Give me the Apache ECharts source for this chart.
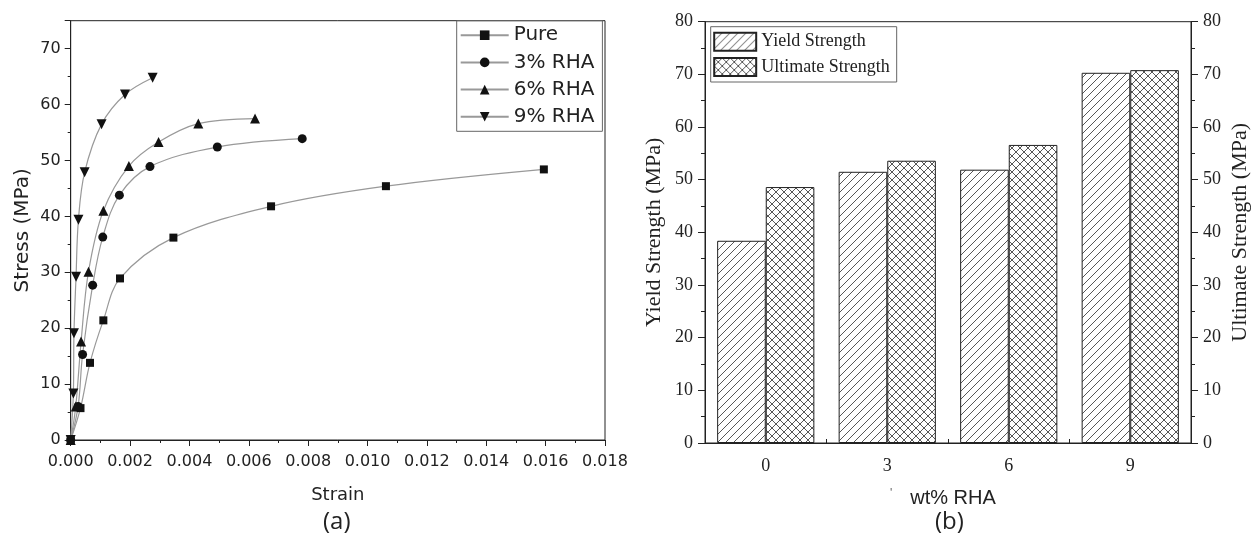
<!DOCTYPE html>
<html>
<head>
<meta charset="utf-8">
<script src="https://cdn.jsdelivr.net/npm/echarts@6/dist/echarts.min.js"></script>
<style>
  html, body { margin: 0; padding: 0; background: #fff; }
  #chart { width: 1252px; height: 542px; }
</style>
</head>
<body>
<div id="chart"></div>
<script>
// (a) stress-strain curves
const strainPure = [0, 0.00033, 0.00065, 0.0011, 0.00166, 0.00346, 0.00675, 0.01062, 0.01594];
const stressPure = [0, 5.7, 13.8, 21.4, 28.9, 36.2, 41.8, 45.4, 48.4];
const strain3 = [0, 0.00025, 0.0004, 0.00074, 0.00108, 0.00164, 0.00267, 0.00494, 0.0078];
const stress3 = [0, 6.0, 15.3, 27.7, 36.3, 43.8, 48.9, 52.4, 53.9];
const strain6 = [0, 0.00017, 0.00035, 0.0006, 0.0011, 0.00196, 0.00296, 0.0043, 0.00621];
const stress6 = [0, 6.0, 17.6, 30.1, 41.0, 49.0, 53.3, 56.6, 57.5];
const strain9 = [0, 0.00009, 0.00011, 0.00018, 0.00026, 0.00047, 0.00104, 0.00183, 0.00276];
const stress9 = [0, 8.3, 19.1, 29.2, 39.4, 47.9, 56.5, 61.8, 64.8];
const curveNames = ["Pure", "3% RHA", "6% RHA", "9% RHA"];

// (b) strength vs wt% RHA
const rhaLevels = ["0", "3", "6", "9"];
const yieldStrength = [38.4, 51.5, 51.9, 70.3];
const ultimateStrength = [48.6, 53.6, 56.6, 70.8];

const pairs = (xs, ys) => xs.map((x, i) => [x, ys[i]]);

function hatch(cross) {
  const c = document.createElement("canvas");
  c.width = 8;
  c.height = 8;
  const g = c.getContext("2d");
  g.fillStyle = "#fff";
  g.fillRect(0, 0, 8, 8);
  g.strokeStyle = "#444";
  g.lineWidth = 0.9;
  const seg = (x1, y1, x2, y2) => {
    g.beginPath();
    g.moveTo(x1, y1);
    g.lineTo(x2, y2);
    g.stroke();
  };
  seg(-1, 9, 9, -1);
  seg(-1, 1, 1, -1);
  seg(7, 9, 9, 7);
  if (cross) {
    seg(-1, -1, 9, 9);
    seg(7, -1, 9, 1);
    seg(-1, 7, 1, 9);
  }
  return c;
}

const sans = "DejaVu Sans";
const serif = "Liberation Serif";
const ink = "#222";

const lineSeries = (name, data, symbol, size) => ({
  name: name,
  type: "line",
  xAxisIndex: 0,
  yAxisIndex: 0,
  data: data,
  smooth: 0.35,
  symbol: symbol,
  symbolSize: size,
  lineStyle: { color: "#999", width: 1.2 },
  itemStyle: { color: "#111" },
});

const downTri = "path://M0,0 L10,0 L5,9 Z";

let myChart = echarts.init(document.getElementById("chart"));
let option;

option = {
  animation: false,
  grid: [
    { left: 70.7, right: 647, top: 20.7, bottom: 102, show: true, borderColor: ink, borderWidth: 1 },
    { left: 705, right: 59.3, top: 21.7, bottom: 99, show: true, borderColor: ink, borderWidth: 1 },
  ],
  legend: [
    {
      data: curveNames,
      left: 456.7,
      top: 20.7,
      orient: "vertical",
      itemWidth: 48,
      itemHeight: 12,
      itemGap: 7.2,
      padding: [4.5, 8, 4.5, 3],
      borderColor: "#666",
      borderWidth: 1,
      textStyle: { fontFamily: sans, fontSize: 20, color: ink, lineHeight: 20 },
    },
    {
      data: ["Yield Strength", "Ultimate Strength"],
      left: 710.7,
      top: 26.7,
      orient: "vertical",
      icon: "rect",
      itemWidth: 42,
      itemHeight: 18,
      itemGap: 5.3,
      padding: [5, 7, 5, 2.5],
      borderColor: "#666",
      borderWidth: 1,
      textStyle: { fontFamily: serif, fontSize: 18, color: ink },
    },
  ],
  xAxis: [
    {
      gridIndex: 0,
      type: "value",
      min: 0,
      max: 0.018,
      interval: 0.002,
      name: "Strain",
      nameLocation: "middle",
      nameGap: 46,
      nameTextStyle: { fontFamily: sans, fontSize: 18, color: ink },
      axisLine: { lineStyle: { color: ink } },
      axisTick: { inside: false, length: 6, lineStyle: { color: ink } },
      minorTick: { show: true, splitNumber: 2, length: 3, lineStyle: { color: ink } },
      splitLine: { show: false },
      axisLabel: { fontFamily: sans, fontSize: 16, color: ink, margin: 14, formatter: (v) => v.toFixed(3) },
    },
    {
      gridIndex: 1,
      type: "category",
      data: rhaLevels,
      name: "wt% RHA",
      nameLocation: "middle",
      nameGap: 45,
      nameTextStyle: { fontFamily: "Liberation Sans", fontSize: 20, color: ink, padding: [0, 0, 0, 10] },
      axisLine: { lineStyle: { color: ink } },
      axisTick: { alignWithLabel: true, length: 7, lineStyle: { color: ink } },
      axisLabel: { fontFamily: serif, fontSize: 18, color: ink, margin: 14 },
    },
    {
      gridIndex: 1,
      type: "category",
      data: rhaLevels,
      axisLine: { show: false },
      axisTick: { show: true, length: 4, lineStyle: { color: ink } },
      axisLabel: { show: false },
    },
  ],
  yAxis: [
    {
      gridIndex: 0,
      type: "value",
      min: 0,
      max: 75,
      interval: 10,
      name: "Stress (MPa)",
      nameLocation: "middle",
      nameGap: 38,
      nameTextStyle: { fontFamily: sans, fontSize: 20, color: ink },
      axisLine: { show: true, lineStyle: { color: ink } },
      axisTick: { show: true, inside: false, length: 6, lineStyle: { color: ink } },
      minorTick: { show: true, splitNumber: 2, length: 3, lineStyle: { color: ink } },
      splitLine: { show: false },
      axisLabel: { fontFamily: sans, fontSize: 16, color: ink, margin: 10, showMaxLabel: false },
    },
    {
      gridIndex: 1,
      type: "value",
      position: "left",
      min: 0,
      max: 80,
      interval: 10,
      name: "Yield Strength (MPa)",
      nameLocation: "middle",
      nameGap: 40,
      nameTextStyle: { fontFamily: serif, fontSize: 22, color: ink },
      axisLine: { show: true, lineStyle: { color: ink } },
      axisTick: { show: true, length: 7, lineStyle: { color: ink } },
      minorTick: { show: true, splitNumber: 2, length: 4, lineStyle: { color: ink } },
      splitLine: { show: false },
      axisLabel: { fontFamily: serif, fontSize: 18, color: ink, margin: 12 },
    },
    {
      gridIndex: 1,
      type: "value",
      position: "right",
      min: 0,
      max: 80,
      interval: 10,
      name: "Ultimate Strength (MPa)",
      nameLocation: "middle",
      nameGap: 38,
      nameTextStyle: { fontFamily: serif, fontSize: 22, color: ink },
      axisLine: { show: true, lineStyle: { color: ink } },
      axisTick: { show: true, length: 7, lineStyle: { color: ink } },
      minorTick: { show: true, splitNumber: 2, length: 4, lineStyle: { color: ink } },
      splitLine: { show: false },
      axisLabel: { fontFamily: serif, fontSize: 18, color: ink, margin: 12 },
    },
  ],
  series: [
    lineSeries(curveNames[0], pairs(strainPure, stressPure), "rect", 8),
    lineSeries(curveNames[1], pairs(strain3, stress3), "circle", 9),
    lineSeries(curveNames[2], pairs(strain6, stress6), "triangle", 10),
    lineSeries(curveNames[3], pairs(strain9, stress9), downTri, 10),
    {
      name: "Yield Strength",
      type: "bar",
      xAxisIndex: 1,
      yAxisIndex: 1,
      data: yieldStrength,
      barGap: "0%",
      barCategoryGap: "20%",
      itemStyle: { color: { image: hatch(false), repeat: "repeat" }, borderColor: ink, borderWidth: 1 },
    },
    {
      name: "Ultimate Strength",
      type: "bar",
      xAxisIndex: 1,
      yAxisIndex: 2,
      data: ultimateStrength,
      barGap: "0%",
      barCategoryGap: "20%",
      itemStyle: { color: { image: hatch(true), repeat: "repeat" }, borderColor: ink, borderWidth: 1 },
    },
  ],
  graphic: [
    { type: "text", left: 323, top: 510, style: { text: "(a)", fontFamily: "Open Sans", fontSize: 24, fill: ink } },
    { type: "text", left: 935, top: 510, style: { text: "(b)", fontFamily: "Open Sans", fontSize: 24, fill: ink } },
    { type: "text", left: 890, top: 488, style: { text: "'", fontFamily: "Liberation Sans", fontSize: 12, fill: "#666" } },
  ],
};

option && myChart.setOption(option);
</script>
</body>
</html>
